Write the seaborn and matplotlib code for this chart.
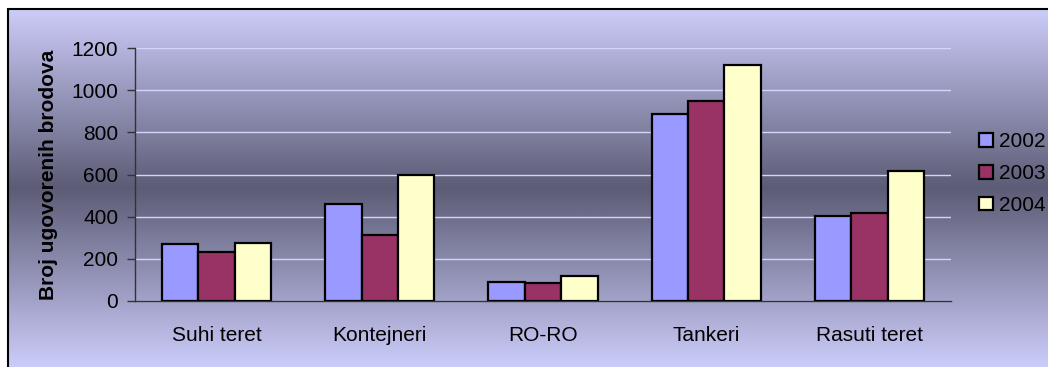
import numpy as np
import pandas as pd
import matplotlib
matplotlib.use("Agg")
import matplotlib.pyplot as plt
from matplotlib.patches import Rectangle
import seaborn as sns

# Data: number of contracted ships per ship type and year
categories = ["Suhi teret", "Kontejneri", "RO-RO", "Tankeri", "Rasuti teret"]
years = ["2002", "2003", "2004"]
values_2002 = [270, 462, 92, 887, 405]
values_2003 = [234, 313, 84, 950, 419]
values_2004 = [274, 598, 117, 1120, 615]
yticks = [0, 200, 400, 600, 800, 1000, 1200]

df = pd.DataFrame({
    "Vrsta": categories * 3,
    "Godina": [y for y in years for _ in categories],
    "Broj": values_2002 + values_2003 + values_2004,
})

sns.set_theme(style="white")
plt.rcParams["font.family"] = ["Liberation Sans", "DejaVu Sans"]
plt.rcParams["text.color"] = "black"
plt.rcParams["axes.labelcolor"] = "black"
plt.rcParams["xtick.color"] = "black"
plt.rcParams["ytick.color"] = "black"

FS = 15

W, H = 1048, 367
fig = plt.figure(figsize=(W / 100, H / 100), dpi=100)
fig.patch.set_facecolor("white")

# Chart-area background: vertical gradient, light at the edges, dark in the middle
light = np.array([204, 204, 250]) / 255
dark = np.array([92, 92, 118]) / 255
x0, y_top = 8 / W, 1 - 9 / H
bg = fig.add_axes([x0, 0, 1 - x0, y_top], zorder=-2)
n = 400
pos = np.linspace(0, 1, n)          # 0 = top of chart area, 1 = bottom
center = 0.5
t = 1 - np.abs(pos - center) / center
grad = light[None, :] * (1 - t[:, None]) + dark[None, :] * t[:, None]
bg.imshow(grad[:, None, :], aspect="auto", extent=[0, 1, 0, 1], interpolation="bilinear")
bg.set_axis_off()
# Chart-area border (left and top edges visible)
fig.patches.append(Rectangle((x0, -0.1), 1.2, y_top + 0.1, transform=fig.transFigure,
                             fill=False, edgecolor="black", linewidth=1.5, zorder=-1))

ax = fig.add_axes([135 / W, 1 - 301 / H, (951 - 135) / W, (301 - 48) / H])
ax.set_facecolor("none")

palette = {"2002": "#9999ff", "2003": "#993366", "2004": "#ffffcc"}
sns.barplot(data=df, x="Vrsta", y="Broj", hue="Godina", palette=palette,
            width=0.67, gap=0, edgecolor="black", linewidth=1.6, saturation=1,
            ax=ax, zorder=3)

ax.set_ylim(0, 1200)
ax.set_xlim(-0.5, len(categories) - 0.5)
ax.set_yticks(yticks)
ax.set_yticklabels([str(v) for v in yticks], fontsize=FS)
ax.yaxis.grid(True, color="#d4d4fc", linewidth=1)
ax.set_axisbelow(True)

ax.set_xticks(range(len(categories)))
ax.set_xticklabels(categories, fontsize=FS)
ax.set_xticks(np.arange(-0.5, len(categories)), minor=True)
ax.tick_params(axis="x", which="major", length=0, pad=18, colors="black")
ax.tick_params(axis="x", which="minor", length=5, width=1, color="#333333", direction="out")
ax.tick_params(axis="y", which="major", length=6, width=1, color="#333333", pad=6,
               direction="out", left=True, labelcolor="black")
ax.set_xlabel("")
ax.set_ylabel("Broj ugovorenih brodova", fontsize=FS, fontweight="bold", labelpad=10,
              color="black")

for side in ["top", "right"]:
    ax.spines[side].set_visible(False)
for side in ["left", "bottom"]:
    ax.spines[side].set_color("#333333")
    ax.spines[side].set_linewidth(1)

sns.move_legend(ax, loc="upper left", bbox_to_anchor=(979 / W, 1 - 132 / H),
                bbox_transform=fig.transFigure, frameon=False, title=None,
                fontsize=FS, handlelength=0.65, handleheight=0.65,
                handletextpad=0.3, labelspacing=0.62, borderpad=0, borderaxespad=0)

fig.savefig("out.png", dpi=100)
